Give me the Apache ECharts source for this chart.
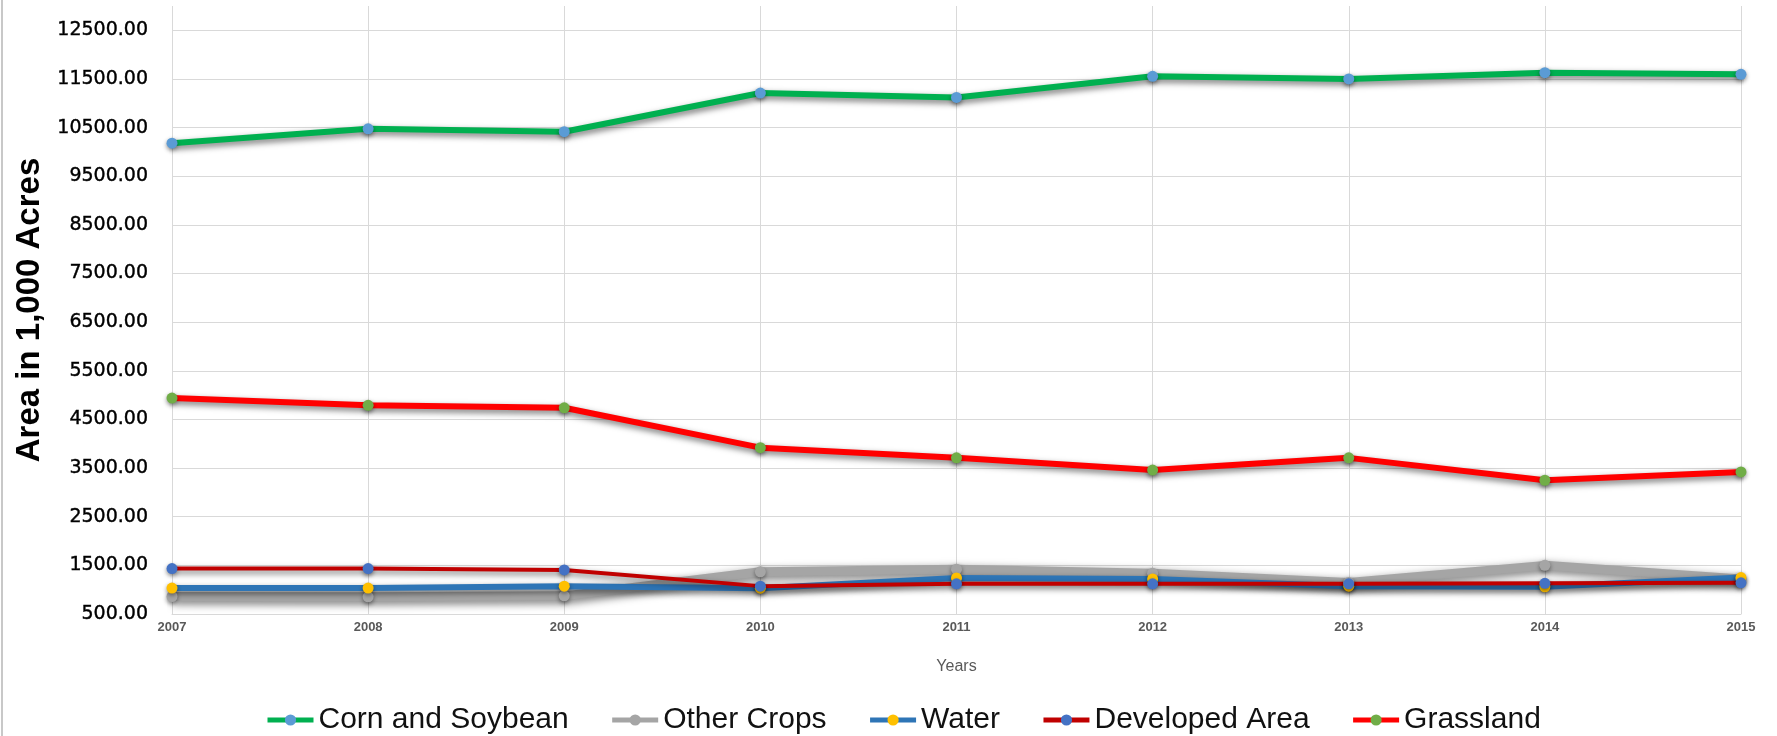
<!DOCTYPE html>
<html>
<head>
<meta charset="utf-8">
<script src="https://cdn.jsdelivr.net/npm/echarts@6/dist/echarts.min.js"></script>
<style>
html,body{margin:0;padding:0;background:#fff;}
#chart{position:absolute;left:0;top:0;width:1777px;height:736px;}
#edge{position:absolute;left:1px;top:0;width:0;height:736px;border-left:2px solid #c8c8c8;pointer-events:none;}
</style>
</head>
<body>
<div id="chart"></div>
<div id="edge"></div>
<script>
const years = ['2007', '2008', '2009', '2010', '2011', '2012', '2013', '2014', '2015'];
const cornSoybean = [10180, 10475, 10415, 11210, 11120, 11555, 11500, 11630, 11595];
const otherCrops = [860, 853, 873, 1367, 1420, 1340, 1150, 1500, 1220];
const water = [1033, 1033, 1073, 1030, 1240, 1220, 1073, 1060, 1250];
const developedArea = [1433, 1433, 1407, 1073, 1120, 1120, 1120, 1130, 1140];
const grassland = [4940, 4790, 4740, 3920, 3710, 3460, 3710, 3250, 3420];
const seriesNames = ['Corn and Soybean', 'Other Crops', 'Water', 'Developed Area', 'Grassland'];

function mk(name, data, lineColor, markColor, width, blur) {
  return {
    name: name, type: 'line', data: data,
    symbol: 'circle', symbolSize: 11,
    lineStyle: {color: lineColor, width: width, shadowColor: 'rgba(0,0,0,0.55)', shadowBlur: blur, shadowOffsetX: 1, shadowOffsetY: 3},
    itemStyle: {color: markColor, borderWidth: 0, shadowColor: 'rgba(0,0,0,0.45)', shadowBlur: 4, shadowOffsetY: 2},
    emphasis: {disabled: true}
  };
}

const chart = echarts.init(document.getElementById('chart'), null, {renderer: 'canvas'});
chart.setOption({
  animation: false,
  backgroundColor: '#ffffff',
  grid: {left: 172, right: 36, top: 6, bottom: 122},
  legend: {
    left: 260, top: 700,
    itemWidth: 46, itemHeight: 14, itemGap: 41,
    lineStyle: {width: 5},
    textStyle: {fontFamily: 'Liberation Sans', fontSize: 30, color: '#111'},
    data: seriesNames
  },
  xAxis: {
    type: 'category', data: years, boundaryGap: false,
    name: 'Years', nameLocation: 'middle', nameGap: 45,
    nameTextStyle: {fontFamily: 'Liberation Sans', fontSize: 16, color: '#595959'},
    axisLine: {lineStyle: {color: '#d9d9d9', width: 1}},
    axisTick: {show: false},
    axisLabel: {fontFamily: 'Liberation Sans', fontWeight: 'bold', fontSize: 13, color: '#595959', margin: 7},
    splitLine: {show: true, lineStyle: {color: '#d9d9d9', width: 1}}
  },
  yAxis: {
    type: 'value', min: 500, max: 13000, interval: 1000,
    name: 'Area in 1,000 Acres', nameLocation: 'middle', nameGap: 125,
    nameTextStyle: {fontFamily: 'Liberation Sans', fontWeight: 'bold', fontSize: 33, color: '#000'},
    axisLine: {show: false},
    axisTick: {show: false},
    axisLabel: {
      fontFamily: 'DejaVu Sans', fontSize: 19, color: '#000', margin: 24,
      textBorderColor: '#000', textBorderWidth: 0.4,
      showMaxLabel: false,
      formatter: function (v) { return v.toFixed(2); }
    },
    splitLine: {show: true, showMaxLine: false, lineStyle: {color: '#d9d9d9', width: 1}}
  },
  series: [
    mk('Corn and Soybean', cornSoybean, '#00b050', '#5b9bd5', 6, 6),
    mk('Other Crops', otherCrops, '#a5a5a5', '#a5a5a5', 9, 9),
    mk('Water', water, '#2e75b6', '#ffc000', 6, 6),
    mk('Developed Area', developedArea, '#c00000', '#4472c4', 4, 6),
    mk('Grassland', grassland, '#ff0000', '#70ad47', 6, 6)
  ]
});
</script>
</body>
</html>
